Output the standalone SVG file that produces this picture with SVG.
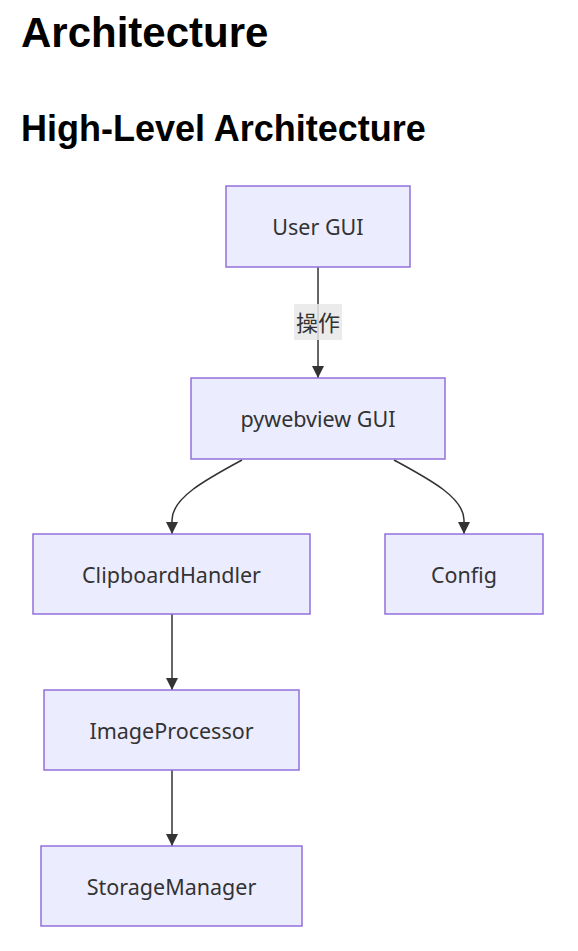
<svg xmlns="http://www.w3.org/2000/svg" width="578" height="951" viewBox="0 0 578 951">
<style>
.h{font-family:"Liberation Sans",Arial,sans-serif;font-weight:bold;fill:#000}
.n rect{fill:#ECECFF;stroke:#9370DB;stroke-width:1.5}
.n text{font-family:"Noto Sans","Open Sans",sans-serif;font-size:21.5px;fill:#333;text-anchor:middle}
.e path{fill:none;stroke:#333;stroke-width:1.5}
.lbl rect{fill:#e8e8e8;opacity:0.85}
.lbl text{font-family:"Noto Sans CJK SC","Noto Sans",sans-serif;font-size:22px;fill:#333;text-anchor:middle}
</style>
<defs>
<marker id="arr" viewBox="0 0 10 10" refX="10" refY="5" markerWidth="12" markerHeight="12" markerUnits="userSpaceOnUse" orient="auto">
<path d="M0,0 L10,5 L0,10 z" fill="#333"/>
</marker>
</defs>
<rect width="578" height="951" fill="#fff"/>
<text class="h" x="21" y="47" font-size="42">Architecture</text>
<text class="h" x="21" y="141" font-size="36">High-Level Architecture</text>
<g class="e" id="edges">
<path d="M318,267 L318,378" marker-end="url(#arr)"/>
<path d="M242,460 C205,480 172,498 172,520 L172,534" marker-end="url(#arr)"/>
<path d="M394,460 C431,480 464,498 464,520 L464,534" marker-end="url(#arr)"/>
<path d="M172,614 L172,690" marker-end="url(#arr)"/>
<path d="M172,770 L172,846" marker-end="url(#arr)"/>
</g>
<g class="lbl" id="label-op">
<rect x="294" y="304" width="48" height="36"/>
<text x="318" y="331">操作</text>
</g>
<g class="n" id="user-gui"><rect x="226" y="186" width="184" height="81"/><text x="318" y="235">User GUI</text></g>
<g class="n" id="pywebview-gui"><rect x="191" y="378" width="254" height="81"/><text x="318" y="427">pywebview GUI</text></g>
<g class="n" id="clipboard-handler"><rect x="33" y="534" width="277" height="80"/><text x="171.5" y="583">ClipboardHandler</text></g>
<g class="n" id="config"><rect x="385" y="534" width="158" height="80"/><text x="464" y="583">Config</text></g>
<g class="n" id="image-processor"><rect x="44" y="690" width="255" height="80"/><text x="171.5" y="739">ImageProcessor</text></g>
<g class="n" id="storage-manager"><rect x="41" y="846" width="261" height="80"/><text x="171.5" y="895">StorageManager</text></g>
</svg>
